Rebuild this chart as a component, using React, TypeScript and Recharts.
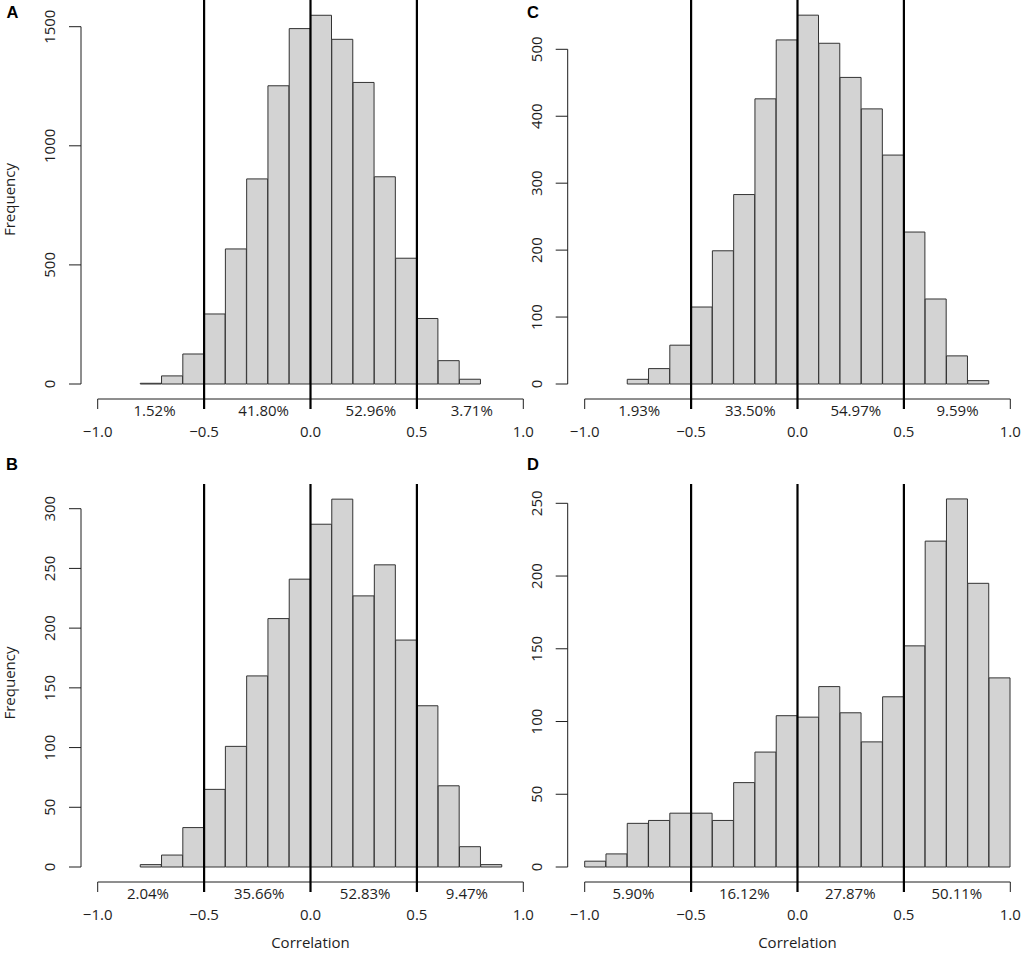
import React from "react";
import { Bar, ComposedChart, ReferenceLine, XAxis, YAxis } from "recharts";

// histogram bins (lower edge of each 0.1-wide bin)
const BIN_WIDTH = 0.1;
const binsA = [-0.8, -0.7, -0.6, -0.5, -0.4, -0.3, -0.2, -0.1, 0, 0.1, 0.2, 0.3, 0.4, 0.5, 0.6, 0.7];
const binsB = [-0.8, -0.7, -0.6, -0.5, -0.4, -0.3, -0.2, -0.1, 0, 0.1, 0.2, 0.3, 0.4, 0.5, 0.6, 0.7, 0.8];
const binsC = [-0.8, -0.7, -0.6, -0.5, -0.4, -0.3, -0.2, -0.1, 0, 0.1, 0.2, 0.3, 0.4, 0.5, 0.6, 0.7, 0.8];
const binsD = [-1, -0.9, -0.8, -0.7, -0.6, -0.5, -0.4, -0.3, -0.2, -0.1, 0, 0.1, 0.2, 0.3, 0.4, 0.5, 0.6, 0.7, 0.8, 0.9];

// frequencies
const countsA = [3, 34, 126, 294, 567, 861, 1252, 1492, 1548, 1447, 1266, 870, 528, 275, 98, 20];
const countsB = [2, 10, 33, 65, 101, 160, 208, 241, 287, 308, 227, 253, 190, 135, 68, 17, 2];
const countsC = [7, 23, 58, 115, 199, 283, 426, 514, 551, 509, 458, 411, 342, 227, 127, 42, 5];
const countsD = [4, 9, 30, 32, 37, 37, 32, 58, 79, 104, 103, 124, 106, 86, 117, 152, 224, 253, 195, 130];

// y axis ticks
const yTicksA = [0, 500, 1000, 1500];
const yTicksB = [0, 50, 100, 150, 200, 250, 300];
const yTicksC = [0, 100, 200, 300, 400, 500];
const yTicksD = [0, 50, 100, 150, 200, 250];

// x axis
const xTicks = [-1, -0.5, 0, 0.5, 1];
const thresholds = [-0.5, 0, 0.5];

// share of correlations in each region, and where the text sits
const pctA = ["1.52%", "41.80%", "52.96%", "3.71%"];
const pctB = ["2.04%", "35.66%", "52.83%", "9.47%"];
const pctC = ["1.93%", "33.50%", "54.97%", "9.59%"];
const pctD = ["5.90%", "16.12%", "27.87%", "50.11%"];
const pctAtA = [-0.733, -0.22, 0.284, 0.758];
const pctAtB = [-0.764, -0.241, 0.257, 0.735];
const pctAtC = [-0.744, -0.222, 0.274, 0.752];
const pctAtD = [-0.771, -0.25, 0.248, 0.749];

const FONT = "'Open Sans', sans-serif";
const INK = "#1e1e1e";
const FS = 15;
const X_AXIS_H = 70;

// page geometry of each panel (pixels)
const geoA = { left: 0, top: 0, width: 540, height: 477, axisX: 81, x0: 97.7, x1: 523.3, zeroY: 384, topTickY: 26.7, plotTop: 0, axisY: 399 };
const geoC = { left: 514, top: 0, width: 514, height: 477, axisX: 567.7, x0: 584.7, x1: 1010.3, zeroY: 384, topTickY: 49.3, plotTop: 0, axisY: 399 };
const geoB = { left: 0, top: 477, width: 540, height: 477, axisX: 81, x0: 97.7, x1: 523.3, zeroY: 867, topTickY: 508.7, plotTop: 484, axisY: 882 };
const geoD = { left: 514, top: 477, width: 514, height: 477, axisX: 567.7, x0: 584.7, x1: 1010.3, zeroY: 867, topTickY: 503.3, plotTop: 484, axisY: 882 };

const fmtX = (v: number) => (v < 0 ? "\u2212" + Math.abs(v).toFixed(1) : v.toFixed(1));

const renderYTick = ({ x, y, payload }: any) => (
  <text
    x={x}
    y={y}
    transform={`rotate(-90 ${x} ${y})`}
    textAnchor="middle"
    dy="0.36em"
    fontSize={FS}
    fontFamily={FONT}
    fill={INK}>
    {payload.value}
  </text>
);

const makeXTick = (pctAt: number[], pctLabels: string[]) => ({ x, y, payload }: any) => {
  const v = payload.value;
  const k = pctAt.indexOf(v);
  if (k >= 0) {
    return (
      <text x={x} y={y + 7} textAnchor="middle" fontSize={FS} fontFamily={FONT} fill={INK}>
        {pctLabels[k]}
      </text>
    );
  }
  const thick = thresholds.includes(v);
  return (
    <g>
      <line x1={x} x2={x} y1={y - 10} y2={y} stroke={thick ? "#000" : INK} strokeWidth={thick ? 2.2 : 1} />
      <text x={x} y={y + 27.5} textAnchor="middle" fontSize={FS} fontFamily={FONT} fill={INK}>
        {fmtX(v)}
      </text>
    </g>
  );
};

interface PanelProps {
  geo: typeof geoA;
  bins: number[];
  counts: number[];
  yTicks: number[];
  pctLabels: string[];
  pctAt: number[];
  showFreq: boolean;
  showCorr: boolean;
}

const Panel: React.FC<PanelProps> = ({ geo, bins, counts, yTicks, pctLabels, pctAt, showFreq, showCorr }) => {
  const data = bins.map((start, i) => ({ mid: start + BIN_WIDTH / 2, count: counts[i] }));

  const pxX = (geo.x1 - geo.x0) / 2;
  const xMin = -1 - (geo.x0 - geo.axisX) / pxX;
  const yTop = yTicks[yTicks.length - 1];
  const pxY = (geo.zeroY - geo.topTickY) / yTop;
  const yMax = (geo.zeroY - geo.plotTop) / pxY;
  const yMin = -(geo.axisY - geo.zeroY) / pxY;
  const margin = {
    top: geo.plotTop - geo.top,
    right: geo.left + geo.width - geo.x1,
    bottom: geo.top + geo.height - geo.axisY - X_AXIS_H,
    left: 0
  };
  const corrDx = geo.x0 + pxX - (geo.axisX + geo.x1) / 2;
  const ticks = [...xTicks, ...pctAt].sort((a, b) => a - b);

  return (
    <div style={{ position: "absolute", left: geo.left, top: geo.top }}>
      <ComposedChart width={geo.width} height={geo.height} data={data} margin={margin} barCategoryGap={0} barGap={0}>
        <XAxis
          type="number"
          dataKey="mid"
          domain={[xMin, 1]}
          ticks={ticks}
          interval={0}
          axisLine={false}
          tickLine={false}
          tickSize={10}
          tickMargin={0}
          height={X_AXIS_H}
          tick={makeXTick(pctAt, pctLabels)}
          label={
            showCorr
              ? {
                  value: "Correlation",
                  position: "insideBottom",
                  offset: 4.5,
                  dx: corrDx,
                  style: { fontSize: FS, fontFamily: FONT, fill: INK }
                }
              : undefined
          }
        />
        <YAxis
          type="number"
          domain={[yMin, yMax]}
          ticks={yTicks}
          interval={0}
          axisLine={false}
          stroke={INK}
          tickLine={{ stroke: INK, strokeWidth: 1 }}
          tickSize={12}
          tickMargin={19}
          width={geo.axisX - geo.left}
          tick={renderYTick}
          label={
            showFreq
              ? {
                  value: "Frequency",
                  angle: -90,
                  position: "insideLeft",
                  offset: 10,
                  style: { textAnchor: "middle", fontSize: FS, fontFamily: FONT, fill: INK }
                }
              : undefined
          }
        />
        <Bar dataKey="count" fill="#d3d3d3" stroke="#333" strokeWidth={1} isAnimationActive={false} />
        <ReferenceLine
          segment={[
            { x: xMin, y: 0 },
            { x: xMin, y: yTop }
          ]}
          stroke={INK}
          strokeWidth={1}
          ifOverflow="visible"
        />
        <ReferenceLine
          segment={[
            { x: -1, y: yMin },
            { x: 1, y: yMin }
          ]}
          stroke={INK}
          strokeWidth={1}
          ifOverflow="visible"
        />
        {thresholds.map((t) => (
          <ReferenceLine key={t} x={t} stroke="#000" strokeWidth={2.2} ifOverflow="visible" />
        ))}
      </ComposedChart>
    </div>
  );
};

const letters = [
  { text: "A", x: 12.5, y: 12.5 },
  { text: "C", x: 533, y: 12.5 },
  { text: "B", x: 12, y: 464.5 },
  { text: "D", x: 533, y: 464.5 }
];

export default function App() {
  return (
    <div style={{ position: "absolute", left: 0, top: 0, width: 1028, height: 954, background: "#fff", fontFamily: FONT }}>
      <Panel geo={geoA} bins={binsA} counts={countsA} yTicks={yTicksA} pctLabels={pctA} pctAt={pctAtA} showFreq={true} showCorr={false} />
      <Panel geo={geoC} bins={binsC} counts={countsC} yTicks={yTicksC} pctLabels={pctC} pctAt={pctAtC} showFreq={false} showCorr={false} />
      <Panel geo={geoB} bins={binsB} counts={countsB} yTicks={yTicksB} pctLabels={pctB} pctAt={pctAtB} showFreq={true} showCorr={true} />
      <Panel geo={geoD} bins={binsD} counts={countsD} yTicks={yTicksD} pctLabels={pctD} pctAt={pctAtD} showFreq={false} showCorr={true} />
      <svg width={1028} height={954} style={{ position: "absolute", left: 0, top: 0, pointerEvents: "none" }}>
        {letters.map((l) => (
          <text
            key={l.text}
            x={l.x}
            y={l.y}
            dy="0.36em"
            textAnchor="middle"
            fontSize={16.5}
            fontWeight="bold"
            fontFamily="'Liberation Sans', Arial, sans-serif"
            fill="#000">
            {l.text}
          </text>
        ))}
      </svg>
    </div>
  );
}
